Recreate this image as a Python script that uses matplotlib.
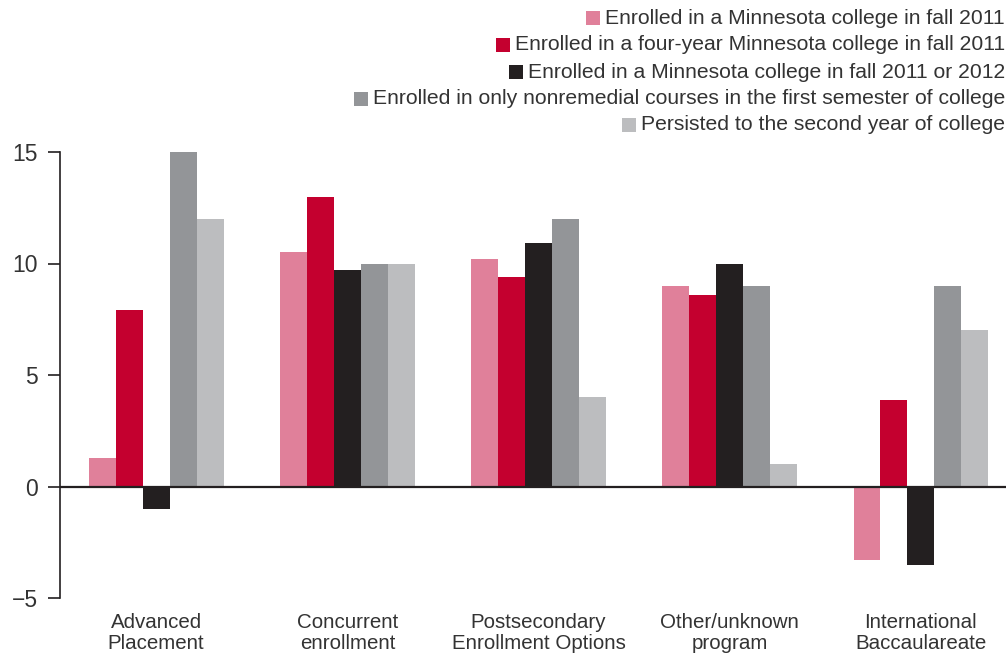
import matplotlib
matplotlib.use("Agg")
import matplotlib.pyplot as plt
from matplotlib.patches import Rectangle
import numpy as np

categories = ["Advanced\nPlacement", "Concurrent\nenrollment", "Postsecondary\nEnrollment Options",
              "Other/unknown\nprogram", "International\nBaccaulareate"]
series_names = [
    "Enrolled in a Minnesota college in fall 2011",
    "Enrolled in a four-year Minnesota college in fall 2011",
    "Enrolled in a Minnesota college in fall 2011 or 2012",
    "Enrolled in only nonremedial courses in the first semester of college",
    "Persisted to the second year of college",
]
mn_fall_2011 = [1.3, 10.5, 10.2, 9.0, -3.3]
four_year_2011 = [7.9, 13.0, 9.4, 8.6, 3.9]
mn_2011_or_2012 = [-1.0, 9.7, 10.9, 10.0, -3.5]
nonremedial = [15.0, 10.0, 12.0, 9.0, 9.0]
persisted = [12.0, 10.0, 4.0, 1.0, 7.0]
yticks = [-5, 0, 5, 10, 15]

colors = ["#E0809A", "#C4002F", "#231F20", "#939598", "#BCBDBF"]
text_color = "#333333"

plt.rcParams["font.family"] = ["Liberation Sans", "DejaVu Sans"]

fig = plt.figure(figsize=(10.06, 6.56), dpi=100)
ax = fig.add_axes([60 / 1006, 1 - 598 / 656, 1 - 60 / 1006, (598 - 152) / 656])

x = np.arange(len(categories))
w = 0.141
all_series = [mn_fall_2011, four_year_2011, mn_2011_or_2012, nonremedial, persisted]
for i, vals in enumerate(all_series):
    ax.bar(x + (i - 2) * w, vals, width=w, color=colors[i], linewidth=0, zorder=2)

ax.axhline(0, color="#231F20", linewidth=1.6, zorder=3)
ax.set_xlim(-0.503, 4.445)
ax.set_ylim(-5, 15)
ax.set_yticks(yticks)
ax.set_yticklabels([str(t).replace("-", "\u2212") for t in yticks])
ax.set_xticks(x)
ax.set_xticklabels(categories, fontsize=14.8, color=text_color, linespacing=1.12)
ax.tick_params(axis="x", length=0, pad=11)
ax.tick_params(axis="y", length=9, width=1.2, color="#231F20", direction="out",
               labelsize=16.5, labelcolor=text_color, pad=7)
for side in ["top", "right", "bottom"]:
    ax.spines[side].set_visible(False)
ax.spines["left"].set_color("#231F20")
ax.spines["left"].set_linewidth(1.2)

# legend: right aligned text with square marker just left of it
row_y = [18, 45, 72, 99, 125]
fig.canvas.draw()
renderer = fig.canvas.get_renderer()
for name, c, yp in zip(series_names, colors, row_y):
    t = fig.text(0.999, 1 - yp / 656, name, ha="right", va="center", fontsize=15.2, color=text_color)
    bb = t.get_window_extent(renderer)
    sq = 14
    fig.patches.append(Rectangle((bb.x0 - 5 - sq, (656 - yp) - sq / 2), sq, sq,
                                 transform=None, facecolor=c, edgecolor="none", figure=fig))

fig.savefig("out.png", dpi=100)
plt.close(fig)
